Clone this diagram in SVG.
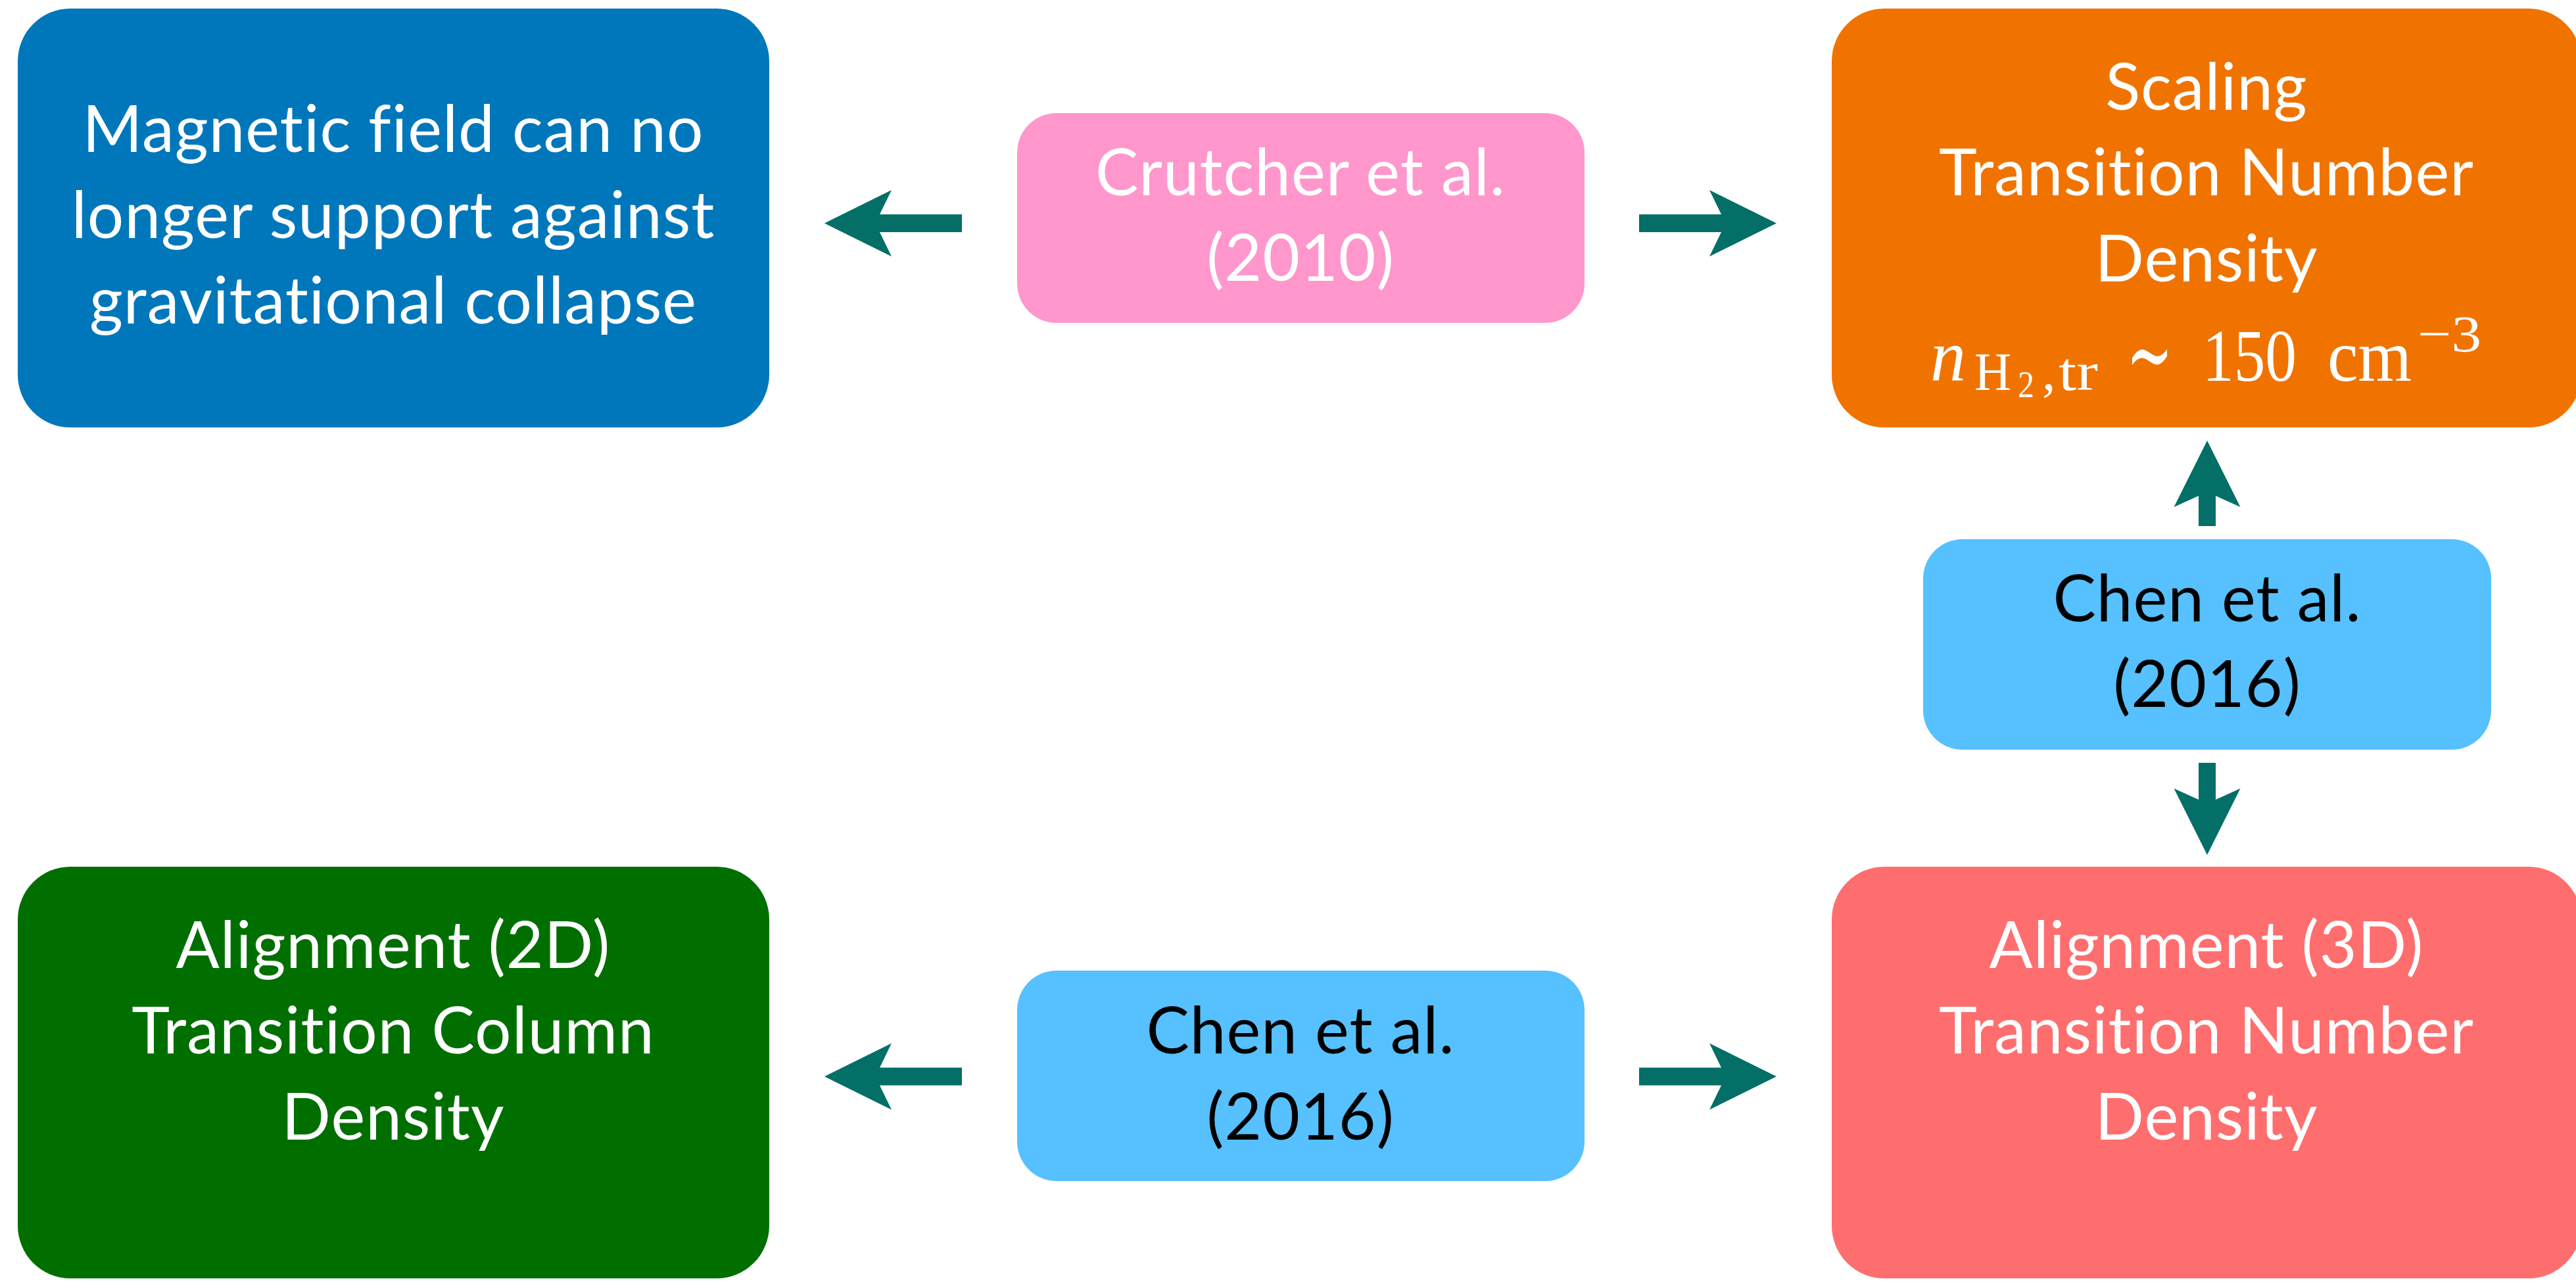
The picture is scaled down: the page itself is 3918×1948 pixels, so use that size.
<svg xmlns="http://www.w3.org/2000/svg" width="3918" height="1948" viewBox="0 0 3918 1948">
  <style>
    .lbl { font-family: Lato, "Noto Sans", "Liberation Sans", sans-serif; font-size: 98px; letter-spacing: 1px; text-anchor: middle; font-variant-ligatures: none; }
    .w { fill: #ffffff; }
    .k { fill: #000000; }
    .math { font-family: "Liberation Serif", "DejaVu Serif", serif; fill: #ffffff; }
    .conn { fill: #036f67; }
  </style>
  <defs>
    <path id="harrow" d="M0,0 L-102,-50.5 L-84,-13.5 L-209,-13.5 L-209,13.5 L-84,13.5 L-102,50.5 Z"/>
  </defs>
  <rect width="3918" height="1948" fill="#ffffff"/>

  <g id="connectors" class="conn">
    <use href="#harrow" transform="translate(1254,339.5) rotate(180)"/>
    <use href="#harrow" transform="translate(2702,339.5)"/>
    <use href="#harrow" transform="translate(1254,1637) rotate(180)"/>
    <use href="#harrow" transform="translate(2702,1637)"/>
    <path d="M3357,670 L3306.5,771 L3344,754 L3344,800 L3370,800 L3370,754 L3407.5,771 Z"/>
    <path d="M3357,1300 L3306.5,1199 L3344,1216 L3344,1160 L3370,1160 L3370,1216 L3407.5,1199 Z"/>
  </g>

  <g id="node-magnetic">
    <rect x="27" y="13" width="1143" height="637" rx="80" fill="#0077bb"/>
    <text class="lbl w" x="598" y="231">Magnetic field can no</text>
    <text class="lbl w" x="598" y="362">longer support against</text>
    <text class="lbl w" x="598" y="492">gravitational collapse</text>
  </g>

  <g id="node-crutcher">
    <rect x="1547" y="172" width="863" height="319" rx="60" fill="#ff97cc"/>
    <text class="lbl w" x="1978" y="297">Crutcher et al.</text>
    <text class="lbl w" x="1978" y="427">(2010)</text>
  </g>

  <g id="node-scaling">
    <rect x="2786" y="13" width="1140" height="637" rx="80" fill="#f07300"/>
    <text class="lbl w" x="3356" y="167">Scaling</text>
    <text class="lbl w" x="3356" y="297">Transition Number</text>
    <text class="lbl w" x="3356" y="428">Density</text>
    <text class="math" x="2936" y="579" font-size="112" font-style="italic" textLength="54" lengthAdjust="spacingAndGlyphs">n</text>
    <text class="math" x="3003" y="593" font-size="82" textLength="56" lengthAdjust="spacingAndGlyphs">H</text>
    <text class="math" x="3069" y="604" font-size="58" textLength="25" lengthAdjust="spacingAndGlyphs">2</text>
    <text class="math" x="3106" y="593" font-size="82">,</text>
    <text class="math" x="3131" y="593" font-size="82" textLength="60" lengthAdjust="spacingAndGlyphs">tr</text>
    <text class="math" x="3234" y="590" font-size="150" textLength="71" lengthAdjust="spacingAndGlyphs">∼</text>
    <text class="math" x="3350" y="579" font-size="112" textLength="143" lengthAdjust="spacingAndGlyphs">150</text>
    <text class="math" x="3540" y="579" font-size="112" textLength="128" lengthAdjust="spacingAndGlyphs">cm</text>
    <text class="math" x="3677" y="534" font-size="78" textLength="97" lengthAdjust="spacingAndGlyphs">−3</text>
  </g>

  <g id="node-chen-mid">
    <rect x="2925" y="820" width="864" height="320" rx="60" fill="#57c0ff"/>
    <text class="lbl k" x="3357" y="945">Chen et al.</text>
    <text class="lbl k" x="3357" y="1075">(2016)</text>
  </g>

  <g id="node-align2d">
    <rect x="27" y="1318" width="1143" height="626" rx="80" fill="#016f00"/>
    <text class="lbl w" x="598" y="1472">Alignment (2D)</text>
    <text class="lbl w" x="598" y="1602">Transition Column</text>
    <text class="lbl w" x="598" y="1733">Density</text>
  </g>

  <g id="node-chen-bottom">
    <rect x="1547" y="1476" width="863" height="320" rx="60" fill="#57c0ff"/>
    <text class="lbl k" x="1978" y="1602">Chen et al.</text>
    <text class="lbl k" x="1978" y="1733">(2016)</text>
  </g>

  <g id="node-align3d">
    <rect x="2786" y="1318" width="1140" height="626" rx="80" fill="#ff6e6e"/>
    <text class="lbl w" x="3356" y="1472">Alignment (3D)</text>
    <text class="lbl w" x="3356" y="1602">Transition Number</text>
    <text class="lbl w" x="3356" y="1733">Density</text>
  </g>
</svg>
